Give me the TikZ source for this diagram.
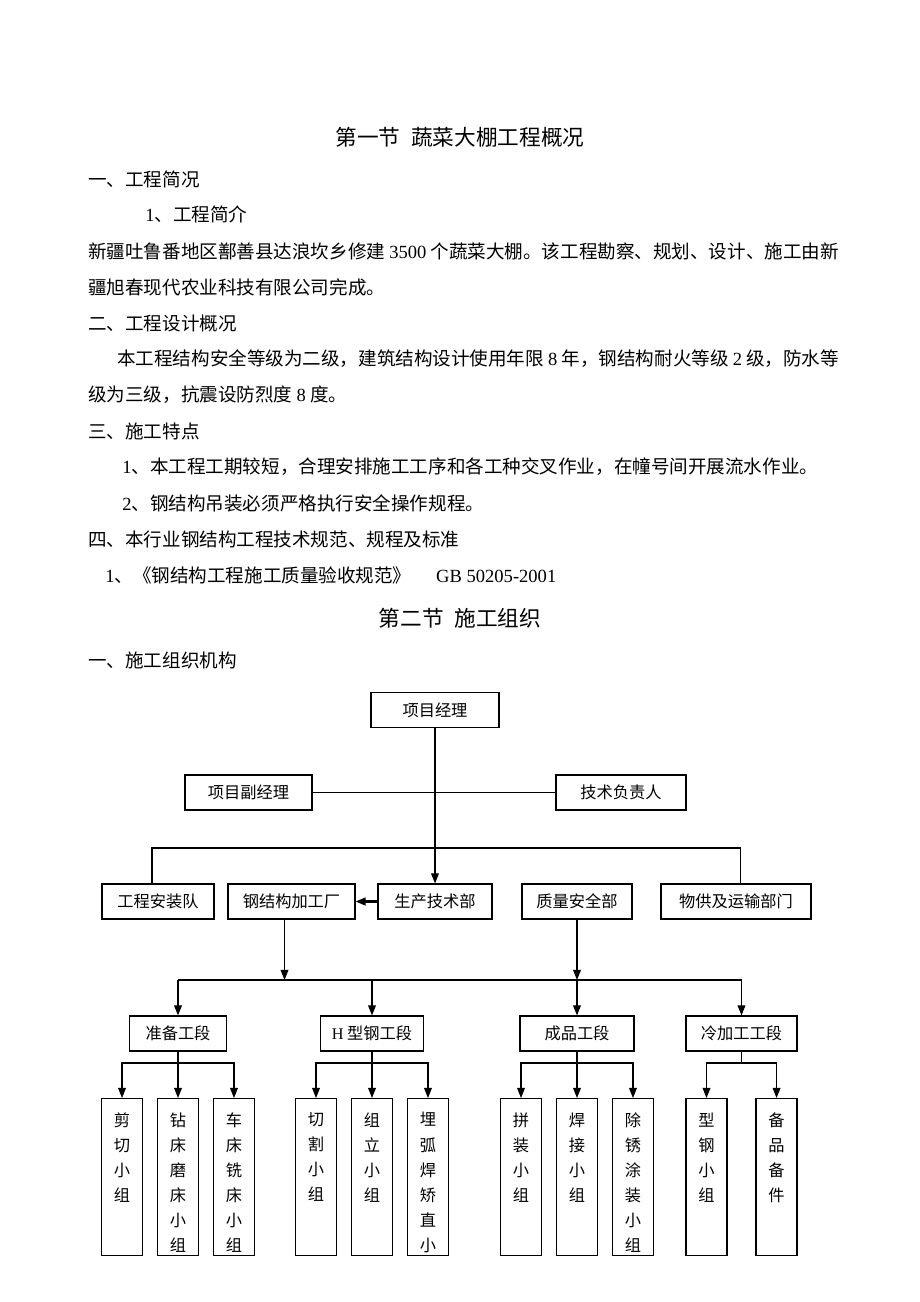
\documentclass[tikz,border=0pt]{standalone}
\usepackage{fontspec}
\setmainfont{Noto Sans CJK SC}
\newfontfamily\lat{Liberation Serif}
\usetikzlibrary{arrows.meta,positioning}

% vertical text in a tall group box
\newcommand{\vlabel}[1]{\parbox[c][101.5pt][t]{1em}{\vspace*{9pt}\centering #1}}

\begin{document}
\begin{tikzpicture}[x=0.6467pt,y=-0.6467pt,>={Triangle[length=6.5pt,width=5pt]},node distance=36.2pt,on grid]
       \tikzstyle{line}=[font=\fontsize{12}{12}\selectfont,inner sep=0pt,anchor=west]
       \tikzstyle{head}=[font=\fontsize{14}{14}\selectfont,inner sep=0pt]
       \tikzstyle{unit}=[draw,line width=0.8pt,minimum height=22.6pt,inner sep=0pt,font=\fontsize{10.5}{10.5}\selectfont]
       \tikzstyle{team}=[draw,line width=0.8pt,minimum width=26.5pt,inner sep=0pt,anchor=north,font=\fontsize{10.5}{16.2}\selectfont]
       \tikzstyle{link}=[line width=0.7pt]

       \useasboundingbox (0,0) rectangle (920,1302);

       % text of the page
       \node[head] (sec1) at (460,137) {第一节\hspace{7pt}蔬菜大棚工程概况};
       \node[line] (h1)   at (88,179)  {一、工程简况};
       \node[line] (h1a)  at (145,214) {{\lat 1}、工程简介};
       \node[line] (p1a)  at (88,251)  {新疆吐鲁番地区鄯善县达浪坎乡修建 {\lat 3500} 个蔬菜大棚。该工程勘察、规划、设计、施工由新};
       \node[line] (p1b)  at (88,287)  {疆旭春现代农业科技有限公司完成。};
       \node[line] (h2)   at (88,323)  {二、工程设计概况};
       \node[line] (p2a)  at (117,359) {本工程结构安全等级为二级，建筑结构设计使用年限 {\lat 8} 年，钢结构耐火等级 {\lat 2} 级，防水等};
       \node[line] (p2b)  at (88,395)  {级为三级，抗震设防烈度 {\lat 8} 度。};
       \node[line] (h3)   at (88,431)  {三、施工特点};
       \node[line] (p3a)  at (122,467) {{\lat 1}、本工程工期较短，合理安排施工工序和各工种交叉作业，在幢号间开展流水作业。};
       \node[line] (p3b)  at (122,503) {{\lat 2}、钢结构吊装必须严格执行安全操作规程。};
       \node[line] (h4)   at (88,539)  {四、本行业钢结构工程技术规范、规程及标准};
       \node[line] (p4a)  at (105,575) {{\lat 1}、《钢结构工程施工质量验收规范》\hspace{16pt}{\lat GB 50205-2001}};
       \node[head] (sec2) at (460,618) {第二节\hspace{7pt}施工组织};
       \node[line] (h5)   at (88,660)  {一、施工组织机构};

       % chart, first levels
       \node[unit,minimum width=82.8pt] (pm)   at (435,710)   {项目经理};
       \node[unit,minimum width=82.1pt] (vpm)  at (248.5,792.5) {项目副经理};
       \node[unit,minimum width=84.1pt] (tech) at (621,792.5) {技术负责人};
       \node[unit,minimum width=72.4pt] (inst) at (158,901.5) {工程安装队};
       \node[unit,minimum width=82.1pt] (fact) at (291.5,901.5) {钢结构加工厂};
       \node[unit,minimum width=73.7pt] (prod) at (435,901.5) {生产技术部};
       \node[unit,minimum width=71.1pt] (qual) at (577,901.5) {质量安全部};
       \node[unit,minimum width=97pt]   (supp) at (736,901.5) {物供及运输部门};

       \node[unit,minimum width=62.7pt] (prep) at (178,1033.5) {准备工段};
       \node[unit,minimum width=66.6pt] (hb)   at (372,1033.5) {{\lat H} 型钢工段};
       \node[unit,minimum width=73.7pt] (fin)  at (577,1033.5) {成品工段};
       \node[unit,minimum width=71.8pt] (cold) at (741.5,1033.5) {冷加工工段};

       % groups
       \node[team] (g2) at (178,1098) {\vlabel{钻\\床\\磨\\床\\小\\组}};
       \node[team] (g1) [left=of g2]  {\vlabel{剪\\切\\小\\组}};
       \node[team] (g3) [right=of g2] {\vlabel{车\\床\\铣\\床\\小\\组}};
       \node[team] (h2) at (372,1098) {\vlabel{组\\立\\小\\组}};
       \node[team] (h1) [left=of h2]  {\vlabel{切\\割\\小\\组}};
       \node[team] (h3) [right=of h2] {\vlabel{埋\\弧\\焊\\矫\\直\\小}};
       \node[team] (f2) at (577,1098) {\vlabel{焊\\接\\小\\组}};
       \node[team] (f1) [left=of f2]  {\vlabel{拼\\装\\小\\组}};
       \node[team] (f3) [right=of f2] {\vlabel{除\\锈\\涂\\装\\小\\组}};
       \node[team] (c1) at (706.5,1098) {\vlabel{型\\钢\\小\\组}};
       \node[team] (c2) [right=45.3pt of c1] {\vlabel{备\\品\\备\\件}};

       \coordinate (b1) at (0,848);
       \coordinate (b2) at (0,980);
       \coordinate (b3) at (0,1063);

       \draw[link] (vpm) -- (tech);
       \draw[link,->] (pm) -- (prod);
       \draw[link] ([xshift=-3.9pt]inst.north) -- ([xshift=-3.9pt]inst.north |- b1)
                   -- ([xshift=3.2pt]supp.north |- b1) -- ([xshift=3.2pt]supp.north);
       \draw[->,line width=1.4pt] (prod) -- (fact);

       \draw[link,->] ([xshift=-4.5pt]fact.south) -- ([xshift=-4.5pt]fact.south |- b2);
       \draw[link,->] (qual.south) -- (qual.south |- b2);
       \draw[link] (prep.north |- b2) -- (cold.north |- b2);
       \foreach \s in {prep,hb,fin,cold}
         \draw[link,->] (\s.north |- b2) -- (\s.north);

       \foreach \g/\a/\b/\c in {prep/g1/g2/g3,hb/h1/h2/h3,fin/f1/f2/f3} {
         \draw[link,->] (\g) -- (\b);
         \draw[link,<->] (\a.north) -- (\a.north |- b3) -- (\c.north |- b3) -- (\c.north);
       }
       \draw[link] (cold) -- (cold |- b3);
       \draw[link,<->] (c1.north) -- (c1.north |- b3) -- (c2.north |- b3) -- (c2.north);
\end{tikzpicture}
\end{document}
